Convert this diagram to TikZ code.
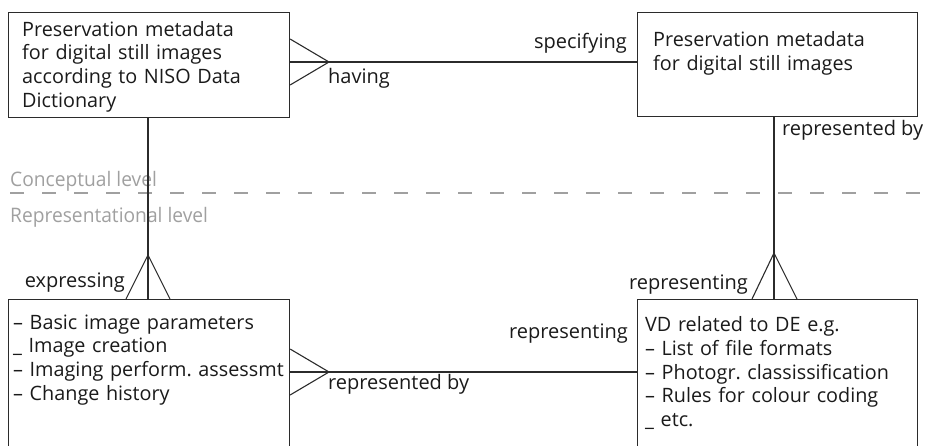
\documentclass[tikz,border=0pt]{standalone}
\usepackage{fontspec}
\setmainfont{Open Sans}
\usepackage{graphicx}
\frenchspacing
\definecolor{linec}{HTML}{2B2B2B}
\definecolor{txtc}{HTML}{1A1A1A}
\definecolor{grayc}{HTML}{A0A0A0}
\begin{document}
\frenchspacing
\begin{tikzpicture}[x=1pt,y=-1pt,
  box/.style={draw=linec, line width=1.1pt, anchor=north west, inner sep=0pt},
  conn/.style={draw=linec, line width=1.1pt, line join=miter},
  txt/.style={text=txtc, inner sep=0pt, font=\fontsize{19.8}{23.7}\selectfont\frenchspacing, align=left, text width=300pt, anchor=base west},
  lbl/.style={text=txtc, inner sep=0pt, font=\fontsize{20}{23.7}\selectfont},
  lvl/.style={text=grayc, inner sep=0pt, font=\fontsize{20}{23}\selectfont, anchor=base west},
  levelline/.style={draw=grayc, line width=1.1pt, dash pattern=on 14pt off 18pt}]
\useasboundingbox (0,0) rectangle (925,445);
\clip (0,0) rectangle (925,445);
% boxes
\node[box, minimum width=281pt, minimum height=105pt] (tl) at (8,12) {};
\node[box, minimum width=280pt, minimum height=104pt] (tr) at (637,12) {};
\node[box, minimum width=281pt, minimum height=170pt] (bl) at (8,299) {};
\node[box, minimum width=280pt, minimum height=170pt] (br) at (637,299) {};
% box texts
\node[txt] (tltext) at (22,36) {Preservation metadata\\for digital still images\\according to NISO Data\\Dictionary};
\node[txt] (trtext) at (653,46.5) {Preservation metadata\\for digital still images};
\node[txt] (bltext) at (13,329) {– Basic image parameters\\\_ Image creation\\– Imaging perform. assessmt\\– Change history};
\node[txt] (brtext) at (645,331.7) {VD related to DE e.g.\\– List of file formats\\– Photogr. classissification\\– Rules for colour coding\\\_ etc.};
% level separator
\coordinate (lvA) at (10,193);
\coordinate (lvB) at (925,193);
\draw[levelline] (lvA) -- (lvB);
\node[lvl] (conc) at (10,186.7) {\scalebox{0.96}[1]{Conceptual level}};
\node[lvl] (repr) at (10,222.7) {\scalebox{0.96}[1]{Representational level}};
% top horizontal relationship
\coordinate (cf1) at (329,62);
\draw[conn] (tl.east |- cf1) -- (tr.west |- cf1);
\draw[conn] (tl.east |- 0,39) -- (cf1) -- (tl.east |- 0,85);
\node[lbl, anchor=base west] (having) at (328,83) {having};
\node[lbl, anchor=base east] (specifying) at (627,48.3) {specifying};
% left vertical relationship
\coordinate (cf2) at (148,255);
\draw[conn] (tl.south -| cf2) -- (bl.north -| cf2);
\draw[conn] (bl.north -| 126,0) -- (cf2) -- (bl.north -| 170,0);
\node[lbl, anchor=base east] (expressing) at (125,287.7) {expressing};
% right vertical relationship
\coordinate (cf3) at (774,253);
\draw[conn] (tr.south -| cf3) -- (br.north -| cf3);
\draw[conn] (br.north -| 752,0) -- (cf3) -- (br.north -| 797,0);
\node[lbl, anchor=base west] (repby1) at (782,135) {represented by};
\node[lbl, anchor=base east] (repr1) at (748,289) {representing};
% bottom horizontal relationship
\coordinate (cf4) at (329,372);
\draw[conn] (bl.east |- cf4) -- (br.west |- cf4);
\draw[conn] (bl.east |- 0,349) -- (cf4) -- (bl.east |- 0,395);
\node[lbl, anchor=base west] (repby2) at (328,389) {represented by};
\node[lbl, anchor=base east] (repr2) at (628,338) {representing};
\end{tikzpicture}
\end{document}
